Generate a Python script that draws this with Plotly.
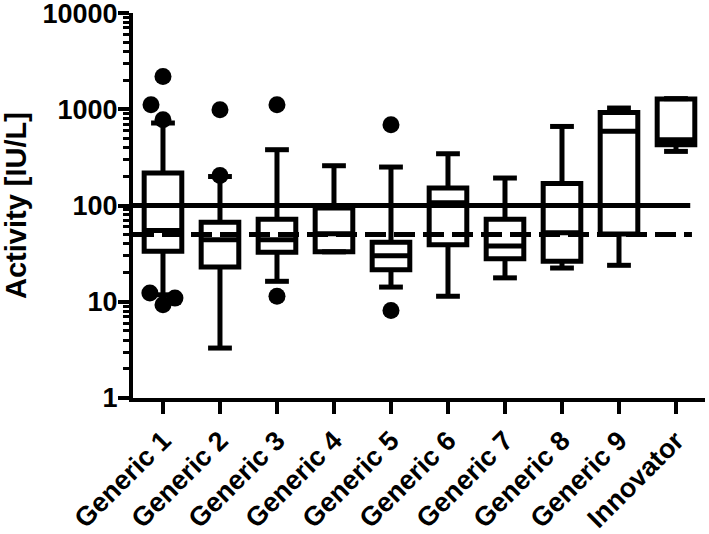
import plotly.graph_objects as go

# ---------------- data ----------------
categories = ["Generic 1", "Generic 2", "Generic 3", "Generic 4", "Generic 5",
              "Generic 6", "Generic 7", "Generic 8", "Generic 9", "Innovator"]
q1_vals = [33.4, 23.0, 32.6, 33.0, 21.5, 39.0, 28.0, 26.3, 50.5, 428]
median_vals = [55, 44, 44, 51, 30, 107, 38, 52, 590, 483]
q3_vals = [218, 67, 72, 94, 41.4, 152, 72, 169, 927, 1277]
lower_whisker = [11.8, 3.3, 16.3, 33.0, 14.2, 11.4, 17.7, 22.4, 23.9, 365]
upper_whisker = [720, 200, 380, 259, 251, 345, 193, 663, 1030, 1290]

# outliers: (category index, value)
outlier_cat = [0, 0, 0, 0, 0, 0, 1, 1, 2, 2, 4, 4]
outlier_val = [2190, 1115, 780, 12.3, 10.9, 9.3, 990, 205, 1115, 11.4, 690, 8.1]
# horizontal jitter of the outlier dots (category units)
outlier_jitter = [0.0, -0.21, 0.0, -0.23, 0.21, 0.0, 0.0, 0.0, 0.0, 0.0, 0.0, 0.0]

ref_solid = 100
ref_dashed = 50

y_tickvals = [1, 10, 100, 1000, 10000]
y_ticktext = ["1", "10", "100", "1000", "10000"]
y_title = "Activity [IU/L]"

# ---------------- figure ----------------
idx = list(range(len(categories)))
LW = 5
FONT = "Liberation Sans, Arial, sans-serif"

fig = go.Figure()

fig.add_trace(go.Box(
    x=idx, q1=q1_vals, median=median_vals, q3=q3_vals,
    lowerfence=lower_whisker, upperfence=upper_whisker,
    width=0.66, whiskerwidth=0,
    line=dict(color="black", width=LW),
    fillcolor="rgba(0,0,0,0)",
    boxpoints=False, showlegend=False, hoverinfo="skip",
))

# whisker caps
fig.add_trace(go.Scatter(
    x=idx + idx, y=lower_whisker + upper_whisker, mode="markers",
    marker=dict(symbol="line-ew", size=17, color="black",
                line=dict(color="black", width=LW)),
    showlegend=False, hoverinfo="skip",
))

# outliers
fig.add_trace(go.Scatter(
    x=[c + j for c, j in zip(outlier_cat, outlier_jitter)], y=outlier_val,
    mode="markers",
    marker=dict(symbol="circle", size=17, color="black"),
    showlegend=False, hoverinfo="skip",
))

x_left = -0.526
fig.add_shape(type="line", xref="x", yref="y", x0=x_left, x1=9.25,
              y0=ref_solid, y1=ref_solid, line=dict(color="black", width=LW))
fig.add_shape(type="line", xref="x", yref="y", x0=x_left, x1=9.28,
              y0=ref_dashed, y1=ref_dashed,
              line=dict(color="black", width=LW, dash="21px,8px"))

fig.update_layout(
    width=709, height=534,
    margin=dict(l=133, r=4, t=13, b=136),
    paper_bgcolor="white", plot_bgcolor="white",
    font=dict(family=FONT, color="black", size=24, weight="bold"),
    xaxis=dict(
        range=[x_left, 9.509], tickmode="array", tickvals=idx, ticktext=categories,
        tickangle=-45, ticks="outside", ticklen=12, tickwidth=4, tickcolor="black",
        showline=True, linewidth=4, linecolor="black", showgrid=False, zeroline=False,
        tickfont=dict(family=FONT, size=27, weight="bold"), automargin=False,
        ticklabeloverflow="allow",
    ),
    yaxis=dict(
        type="log", range=[-0.0005, 4.0005], tickmode="array", tickvals=y_tickvals,
        ticktext=y_ticktext,
        ticks="outside", ticklen=11, tickwidth=4, tickcolor="black",
        showline=True, linewidth=4, linecolor="black", showgrid=False, zeroline=False,
        tickfont=dict(family=FONT, size=27, weight="bold"), automargin=False,
        ticklabeloverflow="allow", ticklabelstandoff=-5,
        minor=dict(ticks="outside", ticklen=6, tickwidth=3, tickcolor="black",
                   dtick="D1", showgrid=False),
        title=dict(text=y_title, font=dict(family=FONT, size=29, weight="bold"), standoff=16),
    ),
)

fig.write_html("out.html", config={"displayModeBar": False},
               post_script="document.body.style.margin='0';document.body.style.overflow='hidden';")
